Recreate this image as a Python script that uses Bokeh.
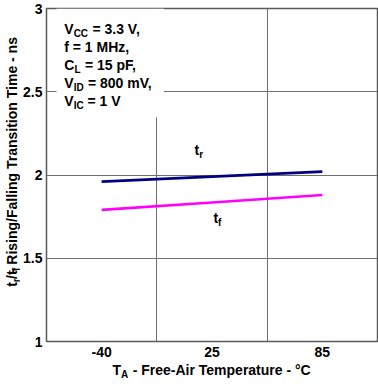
from bokeh.plotting import figure
from bokeh.layouts import row, column
from bokeh.models import Range1d, FixedTicker, NumeralTickFormatter, Label, BoxAnnotation
from bokeh.embed import file_html
from bokeh.resources import INLINE
import math

# ---- data ----
temps = ["-40", "25", "85"]
tr_ns = [1.96, 1.99, 2.02]
tf_ns = [1.79, 1.835, 1.88]
y_ticks = [1, 1.5, 2, 2.5, 3]

cond_lines = [
    [("V", 0), ("CC", 1), (" = 3.3 V,", 0)],
    [("f = 1 MHz,", 0)],
    [("C", 0), ("L", 1), (" = 15 pF,", 0)],
    [("V", 0), ("ID", 1), (" = 800 mV,", 0)],
    [("V", 0), ("IC", 1), (" = 1 V", 0)],
]
x_title = [("T", 0), ("A", 1), (" - Free-Air Temperature - °C", 0)]
y_title = [("t", 0), ("r", 1), ("/t", 0), ("f", 1), (" - Rising/Falling Transition Time - ns", 0)]
tr_label = [("t", 0), ("r", 1)]
tf_label = [("t", 0), ("f", 1)]

FONT = "Liberation Sans"
W = {' ': 278, '-': 333, '.': 278, '/': 278, ',': 278, '=': 584, '°': 400,
     'A': 722, 'C': 722, 'D': 722, 'F': 611, 'H': 722, 'I': 278, 'L': 611, 'M': 833,
     'R': 722, 'T': 611, 'V': 667, 'a': 556, 'c': 556, 'e': 556, 'f': 333, 'g': 611,
     'i': 278, 'l': 278, 'm': 889, 'n': 611, 'o': 611, 'p': 611, 'r': 389, 's': 556,
     't': 333, 'u': 611, 'v': 556, 'z': 500}
for d in "0123456789":
    W[d] = 556


def tw(s, size):
    return sum(W.get(c, 556) for c in s) * size / 1000.0


# page geometry
PAGE_W, PAGE_H = 378, 389
YT_W = 20            # width of y-title strip
MAIN_H = 363         # height of main figure
FL, FR, FT, FB = 44, 377, 8, 341
XMIN, XMAX, YMIN, YMAX = -0.5, 2.5, 1.0, 3.0


def px2x(px):
    return XMIN + (px - FL) * (XMAX - XMIN) / (FR - FL)


def py2y(py):
    return YMIN + (FB - py) * (YMAX - YMIN) / (FB - FT)


main_w = PAGE_W - YT_W
p_main = figure(width=main_w, height=MAIN_H, output_backend="svg", toolbar_location=None,
                x_range=Range1d(XMIN, XMAX), y_range=Range1d(YMIN, YMAX),
                min_border_left=FL - YT_W, min_border_right=PAGE_W - FR,
                min_border_top=FT, min_border_bottom=MAIN_H - FB)
p_main.background_fill_color = "white"
p_main.border_fill_color = "white"
p_main.outline_line_color = "#5a5a5a"
p_main.outline_line_width = 1.5

xpos = list(range(len(temps)))
p_main.xaxis.ticker = FixedTicker(ticks=xpos)
p_main.xaxis.major_label_overrides = {i: t for i, t in enumerate(temps)}
p_main.yaxis.ticker = FixedTicker(ticks=y_ticks)
p_main.yaxis.formatter = NumeralTickFormatter(format="0.[0]")
for ax in (p_main.xaxis[0], p_main.yaxis[0]):
    ax.axis_line_color = None
    ax.major_tick_line_color = None
    ax.minor_tick_line_color = None
    ax.major_tick_in = 0
    ax.major_tick_out = 0
    ax.major_label_text_font = FONT
    ax.major_label_text_font_style = "bold"
    ax.major_label_text_font_size = "14px"
    ax.major_label_text_color = "black"
p_main.xaxis.major_label_standoff = 5
p_main.yaxis.major_label_standoff = 4

p_main.xgrid.ticker = FixedTicker(ticks=[0.5, 1.5])
p_main.ygrid.ticker = FixedTicker(ticks=[1.5, 2, 2.5])
for g in (p_main.xgrid[0], p_main.ygrid[0]):
    g.grid_line_color = "#6e6e6e"
    g.grid_line_width = 1

p_main.line(xpos, tr_ns, line_color="#000080", line_width=2.7)
p_main.line(xpos, tf_ns, line_color="#ff00ff", line_width=2.7)

# white box behind conditions text
p_main.add_layout(BoxAnnotation(left=px2x(54), right=px2x(162), bottom=py2y(117), top=YMAX,
                                fill_color="white", fill_alpha=1.0, line_color=None))

MID = 0.35  # distance (in em) from baseline to the middle of the text box


def rich(fig, parts, x0, base, fx, fy, size=14, sub=10, sub_drop=3, vertical=False):
    """Place text pieces; each piece is anchored at its centre so rotation is unambiguous."""
    adv = 0.0
    for text, is_sub in parts:
        fs = sub if is_sub else size
        drop = sub_drop if is_sub else 0
        w = tw(text, fs)
        if vertical:
            cx, cy, ang = x0 + drop - MID * fs, base - adv - w / 2, math.pi / 2
        else:
            cx, cy, ang = x0 + adv + w / 2, base + drop - MID * fs, 0
        fig.add_layout(Label(x=fx(cx), y=fy(cy), text=text.replace(" ", "\u00a0"), angle=ang,
                             text_font=FONT, text_font_style="bold",
                             text_font_size=f"{fs}px", text_color="black",
                             text_align="center", text_baseline="middle"))
        adv += w


for i, line in enumerate(cond_lines):
    rich(p_main, line, 62, 33 + 18 * i, px2x, py2y)
rich(p_main, tr_label, 193, 154, px2x, py2y)
rich(p_main, tf_label, 212, 222, px2x, py2y)


def strip(w, h):
    f = figure(width=w, height=h, output_backend="svg", toolbar_location=None,
               x_range=Range1d(0, w), y_range=Range1d(0, h),
               x_axis_location=None, y_axis_location=None, min_border=0)
    f.grid.visible = False
    f.outline_line_color = None
    f.background_fill_color = "white"
    f.border_fill_color = "white"
    return f


# y-title strip occupies page x 0..YT_W, y 0..MAIN_H
p_yt = strip(YT_W, MAIN_H)
rich(p_yt, y_title, 16, 303, lambda v: v, lambda v: MAIN_H - v, vertical=True)

# x-title strip occupies page y MAIN_H..PAGE_H
XT_H = PAGE_H - MAIN_H
p_xt = strip(PAGE_W, XT_H)
rich(p_xt, x_title, 112, 374.5, lambda v: v, lambda v: PAGE_H - v)

p = column(row(p_yt, p_main, spacing=0), p_xt, spacing=0)

open("out.html", "w").write(file_html(p, INLINE))
